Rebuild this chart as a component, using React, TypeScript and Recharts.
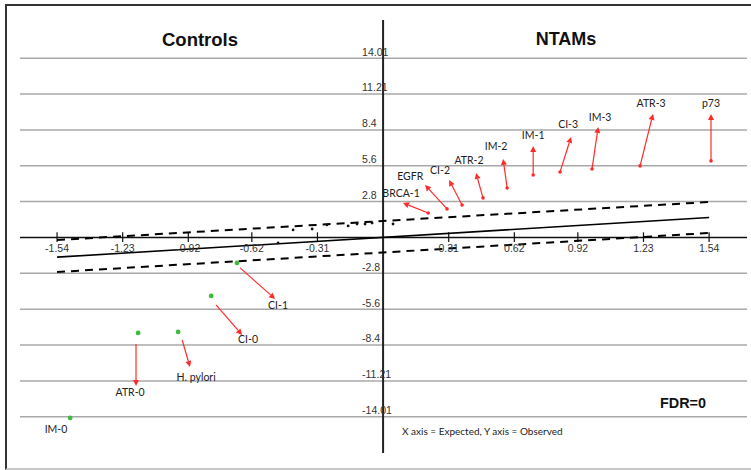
import React from "react";
import {
  ScatterChart,
  Scatter,
  XAxis,
  YAxis,
  ReferenceLine,
  ReferenceDot,
} from "recharts";

// axis ticks drawn on the centred cross axes
const xTicks = [-1.54, -1.23, -0.92, -0.62, -0.31, 0.31, 0.62, 0.92, 1.23, 1.54];
const yTicks = [14.01, 11.21, 8.4, 5.6, 2.8, -2.8, -5.6, -8.4, -11.21, -14.01];

// expected = observed line and the dashed bounds
const expectedLine = [
  { x: -1.54, y: -1.54 },
  { x: 1.54, y: 1.56 },
];
const upperBound = [
  { x: -1.54, y: -0.2 },
  { x: 1.54, y: 2.77 },
];
const lowerBound = [
  { x: -1.54, y: -2.7 },
  { x: 1.54, y: 0.35 },
];

// non-significant genes near the bounds
const genes = [
  { x: -0.496, y: -0.43 },
  { x: -0.425, y: 0.59 },
  { x: -0.335, y: 0.66 },
  { x: -0.265, y: 0.98 },
  { x: -0.165, y: 0.9 },
  { x: -0.123, y: 1.05 },
  { x: -0.052, y: 1.13 },
  { x: -0.085, y: 1.05 },
  { x: 0.047, y: 1.05 },
];

// NTAMs: shift from expected (tail) to observed (head)
const ntamShifts = [
  { name: "BRCA-1", from: [0.213, 1.91], to: [0.094, 2.7], label: [0.085, 3.4] },
  { name: "EGFR", from: [0.302, 2.23], to: [0.198, 4.1], label: [0.128, 4.8] },
  { name: "CI-2", from: [0.373, 2.54], to: [0.312, 4.49], label: [0.269, 5.2] },
  { name: "ATR-2", from: [0.472, 3.09], to: [0.439, 5.04], label: [0.406, 6.05] },
  { name: "IM-2", from: [0.586, 3.87], to: [0.567, 6.13], label: [0.534, 7.07] },
  { name: "IM-1", from: [0.709, 4.88], to: [0.709, 7.15], label: [0.709, 7.93] },
  { name: "CI-3", from: [0.836, 5.12], to: [0.888, 7.85], label: [0.874, 8.79] },
  { name: "IM-3", from: [0.987, 5.35], to: [1.016, 8.63], label: [1.025, 9.41] },
  { name: "ATR-3", from: [1.214, 5.59], to: [1.275, 9.65], label: [1.266, 10.43] },
  { name: "p73", from: [1.549, 5.98], to: [1.549, 9.65], label: [1.549, 10.43] },
];

// Controls: green point, then arrow down to the label
const controlPoints = [
  { name: "CI-1", x: -0.69, y: -1.99 },
  { name: "CI-0", x: -0.812, y: -4.57 },
  { name: "ATR-0", x: -1.157, y: -7.46 },
  { name: "H. pylori", x: -0.968, y: -7.38 },
  { name: "IM-0", x: -1.478, y: -14.1 },
];
const controlShifts = [
  { name: "CI-1", from: [-0.675, -2.38], to: [-0.51, -4.8], label: [-0.496, -5.35] },
  { name: "CI-0", from: [-0.789, -5.27], to: [-0.666, -7.62], label: [-0.638, -8.01] },
  { name: "ATR-0", from: [-1.167, -8.32], to: [-1.167, -11.6], label: [-1.195, -12.15] },
  { name: "H. pylori", from: [-0.949, -8.01], to: [-0.912, -10.12], label: [-0.883, -10.98] },
];
const controlLabels = [{ name: "IM-0", label: [-1.545, -15.04] }];

const RED = "#ff2b2b";
const GREEN = "#3dbb3d";
const labelFont = { fontFamily: "Lato, sans-serif", fontSize: 10.5, fill: "#222" };
const tickFont = { fontFamily: "'Liberation Sans', Arial, sans-serif", fontSize: 10.5, fill: "#333" };

function arrow(tailDot: boolean) {
  return (p: any) => {
    const { x1, y1, x2, y2 } = p;
    const dx = x2 - x1;
    const dy = y2 - y1;
    const len = Math.hypot(dx, dy) || 1;
    const ux = dx / len;
    const uy = dy / len;
    const hl = 6;
    const hw = 3;
    const bx = x2 - ux * hl;
    const by = y2 - uy * hl;
    return (
      <g>
        <line x1={x1} y1={y1} x2={bx} y2={by} stroke={RED} strokeWidth={1.2} />
        <polygon
          points={`${x2},${y2} ${bx - uy * hw},${by + ux * hw} ${bx + uy * hw},${by - ux * hw}`}
          fill={RED}
        />
        {tailDot && <circle cx={x1} cy={y1} r={1.8} fill={RED} />}
      </g>
    );
  };
}

function textShape(text: string, style: any, dx = 0, dy = 0, anchor = "middle") {
  return (p: any) => (
    <text x={p.cx + dx} y={p.cy + dy} textAnchor={anchor} {...style}>
      {text}
    </text>
  );
}

const seg = (d: { x: number; y: number }[]) => d.map((p) => ({ x: p.x, y: p.y }));
const pts = (a: number[], b: number[]) => [
  { x: a[0], y: a[1] },
  { x: b[0], y: b[1] },
];

export default function App() {
  return (
    <div style={{ position: "relative", width: 751, height: 470, overflow: "hidden", background: "#fff" }}>
      <style>{"body{margin:0}"}</style>
      <div
        style={{
          position: "absolute",
          left: 5,
          top: 4,
          width: 760,
          height: 462,
          borderTop: "2px solid #333",
          borderLeft: "2px solid #333",
          borderBottom: "2px solid #c8c8c8",
        }}
      />
      <ScatterChart
        width={751}
        height={470}
        margin={{ top: 20, right: 4, bottom: 17, left: 20 }}
        style={{ position: "absolute", left: 0, top: 0 }}
      >
        <XAxis type="number" dataKey="x" domain={[-1.715, 1.719]} allowDataOverflow hide />
        <YAxis type="number" dataKey="y" domain={[-16.84, 16.99]} allowDataOverflow hide />

        {yTicks.map((v) => (
          <ReferenceLine key={`g${v}`} y={v} stroke="#a8a8a8" strokeWidth={1.5} />
        ))}
        <ReferenceLine y={0} stroke="#111" strokeWidth={1.5} />
        <ReferenceLine x={0} stroke="#222" strokeWidth={2} />
        {xTicks.map((t) => (
          <ReferenceLine
            key={`t${t}`}
            segment={[
              { x: t, y: 0.4 },
              { x: t, y: -0.35 },
            ]}
            stroke="#111"
            strokeWidth={1.2}
          />
        ))}

        <ReferenceLine segment={seg(expectedLine)} stroke="#000" strokeWidth={1.6} />
        <ReferenceLine segment={seg(upperBound)} stroke="#000" strokeWidth={2} strokeDasharray="8 6" />
        <ReferenceLine segment={seg(lowerBound)} stroke="#000" strokeWidth={2} strokeDasharray="8 6" />

        {xTicks.map((t) => (
          <ReferenceDot key={`xl${t}`} x={t} y={0} r={1} shape={textShape(String(t), tickFont, 0, 15)} />
        ))}
        {yTicks.map((v) => (
          <ReferenceDot key={`yl${v}`} x={0} y={v} r={1} shape={textShape(String(v), tickFont, -21, -2.5, "start")} />
        ))}

        {ntamShifts.map((s) => (
          <ReferenceLine key={`n${s.name}`} segment={pts(s.from, s.to)} shape={arrow(true)} />
        ))}
        {controlShifts.map((s) => (
          <ReferenceLine key={`c${s.name}`} segment={pts(s.from, s.to)} shape={arrow(false)} />
        ))}
        {[...ntamShifts, ...controlShifts, ...controlLabels].map((s) => (
          <ReferenceDot
            key={`l${s.name}`}
            x={s.label[0]}
            y={s.label[1]}
            r={1}
            shape={textShape(s.name, labelFont, 0, 3.5)}
          />
        ))}

        <Scatter
          data={genes}
          fill="#111"
          isAnimationActive={false}
          shape={(p: any) => <circle cx={p.cx} cy={p.cy} r={1.4} fill="#111" />}
        />
        <Scatter
          data={controlPoints}
          fill={GREEN}
          isAnimationActive={false}
          shape={(p: any) => <circle cx={p.cx} cy={p.cy} r={2.4} fill={GREEN} />}
        />
      </ScatterChart>

      <div style={{ position: "absolute", left: 100, width: 200, top: 29, textAlign: "center", fontFamily: "'Liberation Sans', Arial, sans-serif", fontWeight: 700, fontSize: 18.5, color: "#111" }}>
        Controls
      </div>
      <div style={{ position: "absolute", left: 466, width: 200, top: 29, textAlign: "center", fontFamily: "'Liberation Sans', Arial, sans-serif", fontWeight: 700, fontSize: 18, color: "#111" }}>
        NTAMs
      </div>
      <div style={{ position: "absolute", left: 660, top: 395, fontFamily: "'Liberation Sans', Arial, sans-serif", fontWeight: 700, fontSize: 14.4, color: "#111" }}>
        FDR=0
      </div>
      <div style={{ position: "absolute", left: 402, top: 425, fontFamily: "Lato, sans-serif", fontSize: 10, color: "#222", whiteSpace: "nowrap" }}>
        X axis = Expected, Y axis = Observed
      </div>
    </div>
  );
}
